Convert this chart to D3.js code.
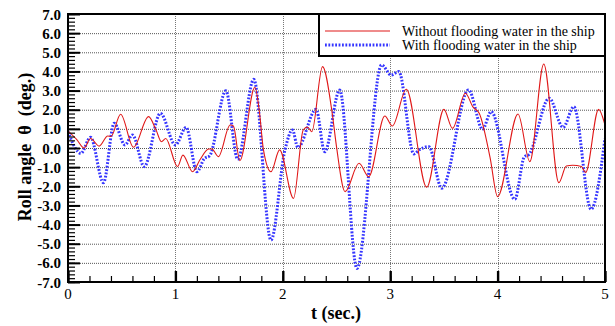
<!DOCTYPE html>
<html>
<head>
<meta charset="utf-8">
<script src="https://cdn.jsdelivr.net/npm/d3@7/dist/d3.min.js"></script>
<style>
  html, body { margin: 0; padding: 0; background: #fff; }
  svg { display: block; }
  text { font-family: "Liberation Serif", "Times New Roman", serif; }
</style>
</head>
<body>
<svg id="chart" width="615" height="326"></svg>
<script>
// Roll angle time histories (t in seconds, angle in degrees)
const tWithout = [0.00, 0.08, 0.15, 0.21, 0.29, 0.37, 0.40, 0.49, 0.61, 0.75, 0.82, 0.87, 0.91, 1.02, 1.07, 1.16, 1.23, 1.31, 1.34, 1.40, 1.51, 1.54, 1.60, 1.74, 1.78, 1.82, 1.89, 1.97, 2.10, 2.19, 2.23, 2.27, 2.37, 2.46, 2.50, 2.58, 2.71, 2.80, 2.95, 3.02, 3.15, 3.34, 3.50, 3.58, 3.70, 3.77, 3.83, 3.93, 4.00, 4.19, 4.30, 4.43, 4.57, 4.64, 4.70, 4.78, 4.82, 4.94, 5.00];
const vWithout = [0.90, 0.45, 0.00, 0.50, 0.10, 0.63, 0.60, 1.76, 0.04, 1.64, 0.94, 0.33, 0.50, -0.97, -0.37, -1.24, -0.60, -0.05, -0.05, -0.45, 1.20, 1.15, -0.66, 3.17, 2.00, -0.10, -1.24, -0.10, -2.63, 0.94, 1.10, 0.85, 4.25, 1.81, 0.07, -2.28, -0.80, -1.50, 1.67, 1.15, 3.07, -2.05, 2.02, 1.03, 2.86, 2.15, 1.80, -0.50, -2.54, 1.78, -0.71, 4.39, -1.81, -0.94, -0.90, -0.97, -1.28, 2.02, 1.20];

const tWith = [0.00, 0.12, 0.21, 0.33, 0.43, 0.53, 0.60, 0.71, 0.86, 1.00, 1.10, 1.20, 1.27, 1.32, 1.47, 1.58, 1.73, 1.89, 2.02, 2.09, 2.14, 2.31, 2.39, 2.53, 2.69, 2.92, 3.01, 3.08, 3.22, 3.27, 3.36, 3.48, 3.73, 3.86, 3.94, 4.16, 4.25, 4.29, 4.48, 4.61, 4.71, 4.87, 5.00];
const vWith = [0.85, -0.28, 0.56, -1.81, 1.29, 0.16, 0.68, -0.97, 1.81, 0.16, 1.08, -1.24, -0.55, -0.40, 2.99, -0.59, 3.59, -4.81, -0.10, 0.94, 0.03, 2.02, -0.20, 3.03, -6.29, 4.34, 3.81, 3.99, -0.31, -0.10, 0.07, -2.10, 3.03, 0.98, 1.90, -2.68, -0.45, -0.35, 2.60, 1.08, 2.16, -3.20, 0.50];

const xTickValues = [0, 1, 2, 3, 4, 5];
const yTickValues = [-7, -6, -5, -4, -3, -2, -1, 0, 1, 2, 3, 4, 5, 6, 7];
const seriesNames = ["Without flooding water in the ship", "With flooding water in the ship"];

const svg = d3.select("#chart");
const plotLeft = 68, plotRight = 605, plotTop = 14, plotBottom = 282;

const x = d3.scaleLinear().domain([0, 5]).range([plotLeft, plotRight]);
const y = d3.scaleLinear().domain([-7, 7]).range([plotBottom, plotTop]);

svg.append("rect").attr("width", 615).attr("height", 326).attr("fill", "#fff");

// Dotted grid lines
const grid = svg.append("g");
grid.selectAll("line.h").data(yTickValues.filter(d => d > -7 && d < 7)).join("line")
  .attr("x1", plotLeft).attr("x2", plotRight)
  .attr("y1", d => y(d) + 0.5).attr("y2", d => y(d) + 0.5)
  .attr("stroke", "#555").attr("stroke-width", 1).attr("stroke-dasharray", "1,1");
grid.selectAll("line.v").data(xTickValues.filter(d => d > 0 && d < 5)).join("line")
  .attr("x1", d => Math.round(x(d)) + 0.5).attr("x2", d => Math.round(x(d)) + 0.5)
  .attr("y1", plotTop).attr("y2", plotBottom)
  .attr("stroke", "#777").attr("stroke-width", 1).attr("stroke-dasharray", "1,1");

// Curves
svg.append("clipPath").attr("id", "plotclip").append("rect")
  .attr("x", plotLeft).attr("y", plotTop).attr("width", plotRight - plotLeft).attr("height", plotBottom - plotTop);

const line = d3.line().x(d => x(d[0])).y(d => y(d[1])).curve(d3.curveMonotoneX);
const withData = tWith.map((t, i) => [t, vWith[i]]);
const withoutData = tWithout.map((t, i) => [t, vWithout[i]]);

const curves = svg.append("g").attr("clip-path", "url(#plotclip)");
curves.append("path").datum(withData).attr("d", line)
  .attr("fill", "none").attr("stroke", "#3535ff").attr("stroke-width", 3)
  .attr("stroke-dasharray", "1.8,1.6");
curves.append("path").datum(withoutData).attr("d", line)
  .attr("fill", "none").attr("stroke", "#e01818").attr("stroke-width", 1.1);

// Axes with major and minor ticks
const yAxisMinor = d3.axisRight(y).tickValues(d3.range(-70, 71, 2).map(d => d / 10))
  .tickSize(7).tickFormat("");
svg.append("g").attr("transform", `translate(${plotLeft},0)`).call(yAxisMinor)
  .call(g => g.select(".domain").remove())
  .call(g => g.selectAll("line").attr("stroke", "#000").attr("stroke-width", 1.2));
const yAxisMajor = d3.axisRight(y).tickValues(yTickValues).tickSize(12).tickFormat("");
svg.append("g").attr("transform", `translate(${plotLeft},0)`).call(yAxisMajor)
  .call(g => g.select(".domain").remove())
  .call(g => g.selectAll("line").attr("stroke", "#000").attr("stroke-width", 2));

const xAxisMinor = d3.axisTop(x).tickValues(d3.range(0, 51, 2).map(d => d / 10))
  .tickSize(6).tickFormat("");
svg.append("g").attr("transform", `translate(0,${plotBottom})`).call(xAxisMinor)
  .call(g => g.select(".domain").remove())
  .call(g => g.selectAll("line").attr("stroke", "#000").attr("stroke-width", 1.2));
const xAxisMajor = d3.axisTop(x).tickValues(xTickValues).tickSize(11).tickFormat("");
svg.append("g").attr("transform", `translate(0,${plotBottom})`).call(xAxisMajor)
  .call(g => g.select(".domain").remove())
  .call(g => g.selectAll("line").attr("stroke", "#000").attr("stroke-width", 2.4));

// Frame
svg.append("rect").attr("x", plotLeft).attr("y", plotTop).attr("width", plotRight - plotLeft).attr("height", plotBottom - plotTop)
  .attr("fill", "none").attr("stroke", "#000").attr("stroke-width", 2);

// Tick labels
svg.append("g").selectAll("text").data(yTickValues).join("text")
  .attr("x", 61).attr("y", d => y(d) + 5.5)
  .attr("text-anchor", "end")
  .attr("font-size", 15).attr("font-weight", "bold")
  .text(d => d.toFixed(1));
svg.append("g").selectAll("text").data(xTickValues).join("text")
  .attr("x", d => x(d)).attr("y", 299)
  .attr("text-anchor", "middle")
  .attr("font-size", 15)
  .text(d => d);

// Axis titles
svg.append("text").attr("x", 336).attr("y", 319).attr("text-anchor", "middle")
  .attr("font-size", 18).attr("font-weight", "bold").text("t (sec.)");
svg.append("text").attr("transform", "translate(31,147) rotate(-90)").attr("text-anchor", "middle")
  .attr("font-size", 18).attr("font-weight", "bold")
  .attr("xml:space", "preserve").style("white-space", "pre")
  .text("Roll angle  \u03b8  (deg.)");

// Legend
const legend = svg.append("g");
legend.append("rect").attr("x", 319).attr("y", 14).attr("width", 286).attr("height", 42)
  .attr("fill", "#fff").attr("stroke", "#000").attr("stroke-width", 2);
const legendRows = [
  { name: seriesNames[0], color: "#e01818", width: 1.1, dash: null, yy: 31 },
  { name: seriesNames[1], color: "#3535ff", width: 3, dash: "1.8,1.6", yy: 45 }
];
legendRows.forEach(r => {
  legend.append("line").attr("x1", 325).attr("x2", 390).attr("y1", r.yy).attr("y2", r.yy)
    .attr("stroke", r.color).attr("stroke-width", r.width)
    .attr("stroke-dasharray", r.dash);
  legend.append("text").attr("x", 402).attr("y", r.yy + 4.5)
    .attr("font-size", 14).text(r.name);
});
</script>
</body>
</html>
